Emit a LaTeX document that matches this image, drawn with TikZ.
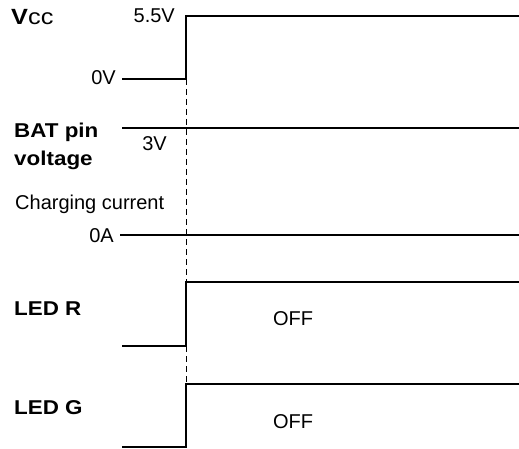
\documentclass[tikz,border=0pt]{standalone}
\usepackage{fontspec}
\setmainfont{Liberation Sans}
\begin{document}
\begin{tikzpicture}[x=1pt,y=1pt,
  wave/.style={line width=2.3pt, line join=miter},
  guide/.style={line width=0.9pt, dash pattern=on 6pt off 4pt},
  lbl/.style={inner sep=0pt, font=\fontsize{20}{22}\selectfont},
  blbl/.style={inner sep=0pt, font=\fontsize{20}{22}\selectfont\bfseries, xscale=1.12, transform shape}]
\useasboundingbox (0,0) rectangle (519,-449);
% coordinates
\coordinate (v0) at (122,-79);
\coordinate (v1) at (186,-79);
\coordinate (v2) at (186,-16);
\coordinate (v3) at (519,-16);
\coordinate (b0) at (122,-128);
\coordinate (b1) at (519,-128);
\coordinate (c0) at (120,-235);
\coordinate (c1) at (519,-235);
\coordinate (r0) at (122,-346);
\coordinate (r1) at (186,-346);
\coordinate (r2) at (186,-282);
\coordinate (r3) at (519,-282);
\coordinate (g0) at (122,-447);
\coordinate (g1) at (186,-447);
\coordinate (g2) at (186,-384);
\coordinate (g3) at (519,-384);
% guide
\draw[guide] (v1) -- (r2);
\draw[guide] (r1) -- (g2);
% waves
\draw[wave] (v0) -- (v1) -- (v2) -- (v3);
\draw[wave] (b0) -- (b1);
\draw[wave] (c0) -- (c1);
\draw[wave] (r0) -- (r1) -- (r2) -- (r3);
\draw[wave] (g0) -- (g1) -- (g2) -- (g3);
% labels
\node[inner sep=0pt, font=\fontsize{22}{24}\selectfont, xscale=1.15, transform shape, anchor=base west] (vcc) at (11,-25) {\textbf{V}cc};
\node[lbl, anchor=base east] (v55) at (175,-23) {5.5V};
\node[lbl, anchor=base east] (v0l) at (116,-85) {0V};
\node[blbl, anchor=base west] (bat) at (14,-138) {BAT pin};
\node[blbl, anchor=base west] (volt) at (14,-166) {voltage};
\node[lbl, anchor=base east] (v3l) at (167,-151) {3V};
\node[lbl, anchor=base west] (chg) at (15,-209) {Charging current};
\node[lbl, anchor=base east] (a0) at (114,-242) {0A};
\node[blbl, anchor=base west] (ledr) at (14,-315) {LED R};
\node[blbl, anchor=base west] (ledg) at (14,-414) {LED G};
\node[lbl, anchor=base] (offr) at (293,-325) {OFF};
\node[lbl, anchor=base] (offg) at (293,-428) {OFF};
\end{tikzpicture}
\end{document}
